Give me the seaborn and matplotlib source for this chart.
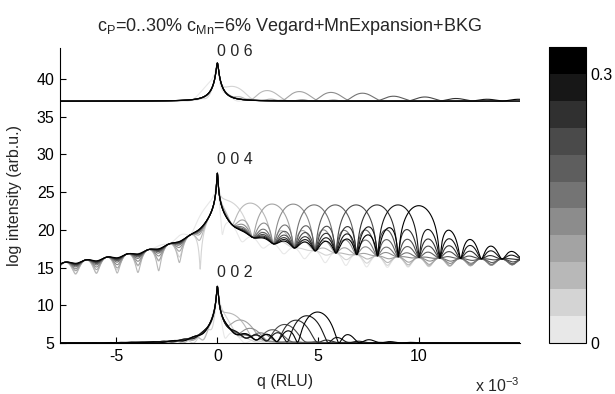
import numpy as np
import pandas as pd
import matplotlib
matplotlib.use("Agg")
import matplotlib.pyplot as plt
import matplotlib.colors as mcolors
import seaborn as sns

# ---------------- data ----------------
c_P = [0.00, 0.03, 0.06, 0.09, 0.12, 0.15, 0.18, 0.21, 0.24, 0.27, 0.30]
gray_levels = [0.91, 0.83, 0.72, 0.64, 0.55, 0.455, 0.37, 0.29, 0.19, 0.09, 0.0]

reflections = ["0 0 2", "0 0 4", "0 0 6"]
label_y = [14.35, 29.3, 43.7]

# layer-peak positions (units of 1e-3 RLU) for each c_P
qL_002 = [-0.17, 0.35, 0.87, 1.38, 1.90, 2.42, 2.93, 3.45, 3.97, 4.48, 5.00]
qL_004 = [-0.33, 0.70, 1.73, 2.77, 3.80, 4.83, 5.87, 6.90, 7.93, 8.97, 10.0]
qL_006 = [-0.50, 1.05, 2.60, 4.15, 5.70, 7.25, 8.80, 10.35, 11.9, 13.45, 15.0]

# layer-peak top heights (log intensity) for each c_P
top_002 = [8.0, 8.4, 8.6, 7.8, 6.6, 6.0, 6.6, 7.4, 8.0, 8.6, 9.1]
top_004 = [23.6, 23.6, 23.5, 23.4, 23.4, 23.3, 23.3, 23.3, 23.3, 23.3, 23.2]
top_006 = [39.0, 38.7, 38.4, 38.3, 38.2, 38.1, 37.7, 37.6, 37.4, 37.3, 37.3]

# substrate peak heights and baselines per reflection
sub_peak = [12.5, 27.5, 42.1]
baseline = [5.0, 20.0, 37.05]
bkg_level = [1.0, 0.004, 1.0]
sub_tail = [1.35, 1.0, 0.6]
fringe_period = [1.03, 1.03, 1.03]
slope = [0.0, 0.06, 0.0]

q_min, q_max = -7.8, 15.0

# ---------------- build curves ----------------
q = np.linspace(q_min, q_max, 4561)
rows = []
qLs = [qL_002, qL_004, qL_006]
tops = [top_002, top_004, top_006]
for g, refl in enumerate(reflections):
    off, bkg, s, P, tilt = baseline[g], bkg_level[g], sub_tail[g], fringe_period[g], slope[g]
    w = s / np.sqrt(np.exp(sub_peak[g] - off) - bkg)
    for k, c in enumerate(c_P):
        qL = qLs[g][k]
        A = np.sqrt(max(np.exp(tops[g][k] - off - tilt * qL) - bkg, 0.0))
        FS = s / (w + 1j * q)
        u = (q - qL) / P
        FL = A * np.exp(1j * np.pi * u) * np.sinc(u) / np.sqrt(1 + (u / 6.0) ** 2)
        y = off + tilt * q + np.log(bkg + np.abs(FS + FL) ** 2)
        rows.append(pd.DataFrame({"q": q, "logI": y, "c_P": c, "refl": refl}))
df = pd.concat(rows, ignore_index=True)

# ---------------- plot ----------------
sns.set_theme(style="white")
plt.rcParams["font.family"] = ["Liberation Sans", "DejaVu Sans"]
plt.rcParams["mathtext.fontset"] = "custom"
plt.rcParams["mathtext.rm"] = "Liberation Sans"
plt.rcParams["mathtext.it"] = "Liberation Sans"

FS_ = 11.5
fig = plt.figure(figsize=(6.15, 3.94), dpi=100)
ax = fig.add_axes([60 / 615, 1 - 343 / 394, 460 / 615, 295 / 394])
cax = fig.add_axes([549 / 615, 1 - 343 / 394, 37 / 615, 296 / 394])

palette = {c: str(gv) for c, gv in zip(c_P, gray_levels)}
sns.lineplot(data=df, x="q", y="logI", hue="c_P", units="refl", estimator=None,
             palette=palette, hue_order=c_P, sort=False, legend=False,
             linewidth=0.8, ax=ax)

ax.set_xlim(q_min, q_max)
ax.set_ylim(5, 44.1)
ax.set_xticks([-5, 0, 5, 10])
ax.set_xticklabels(["-5", "0", "5", "10"])
ax.set_yticks([5, 10, 15, 20, 25, 30, 35, 40])
for sp in ["top", "right"]:
    ax.spines[sp].set_visible(False)
for sp in ["left", "bottom"]:
    ax.spines[sp].set_color("black")
    ax.spines[sp].set_linewidth(0.8)
ax.tick_params(direction="in", length=4, width=0.8, colors="black", labelsize=FS_,
               left=True, bottom=True, pad=4)
ax.set_xlabel("q (RLU)", fontsize=FS_)
ax.set_ylabel("log intensity (arb.u.)", fontsize=FS_)
ax.xaxis.set_label_coords(0.49, -0.105)
ax.yaxis.set_label_coords(-0.082, 0.5)
ax.set_title(r"c$_\mathrm{P}$=0..30% c$_\mathrm{Mn}$=6% Vegard+MnExpansion+BKG",
             fontsize=13, pad=12)

for refl, ly in zip(reflections, label_y):
    ax.text(0, ly, refl, ha="left", va="center", fontsize=FS_)

fig.text(475 / 615, 0.004, r"x 10$^{-3}$", fontsize=FS_, ha="left", va="baseline")

# colorbar
cmap = mcolors.ListedColormap([str(g) for g in gray_levels])
bounds = np.linspace(0, 0.33, 12)
norm = mcolors.BoundaryNorm(bounds, cmap.N)
sm = plt.cm.ScalarMappable(cmap=cmap, norm=norm)
cb = fig.colorbar(sm, cax=cax, ticks=[0, 0.3])
cb.minorticks_off()
cb.ax.set_yticklabels(["0", "0.3"])
cb.ax.tick_params(direction="in", length=0, pad=3, labelsize=FS_, colors="black")
cb.outline.set_edgecolor("black")
cb.outline.set_linewidth(0.8)

fig.savefig("out.png", dpi=100)
